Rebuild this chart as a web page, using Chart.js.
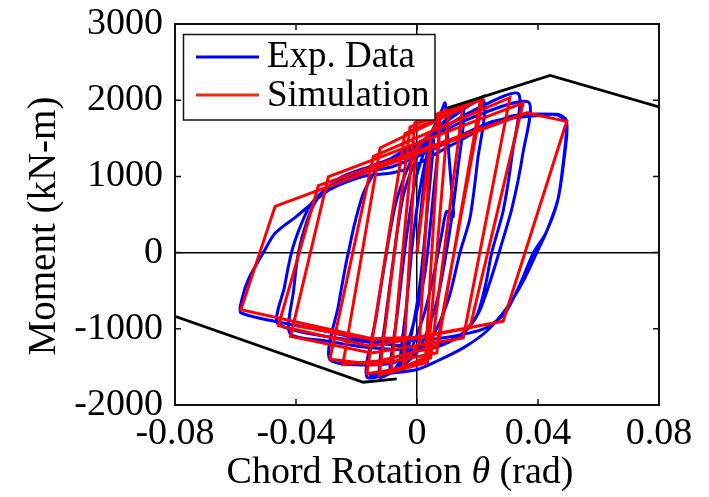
<!DOCTYPE html>
<html><head><meta charset="utf-8">
<script src="https://cdn.jsdelivr.net/npm/chart.js@4.4.1/dist/chart.umd.min.js"></script>
<style>html,body{margin:0;padding:0;background:#fff;}canvas{display:block;}</style>
</head><body>
<canvas id="c" width="709" height="497"></canvas>
<script>
const xTicks = [-0.08, -0.04, 0, 0.04, 0.08];
const yTicks = [-2000, -1000, 0, 1000, 2000, 3000];

// Experimental hysteresis (rotation rad, moment kN-m)
const expData = [
[0,0],[0.002,800],[0.004,1300],[0.0055,1480],
[0.0035,600],[0.001,-400],[-0.002,-1100],[-0.0045,-1450],[-0.0058,-1510],
[-0.0035,-700],[-0.001,300],[0.002,1050],[0.005,1500],[0.0075,1680],
[0.0055,800],[0.0025,-300],[-0.002,-1050],[-0.006,-1450],[-0.009,-1580],
[-0.0065,-800],[-0.0035,200],[-0.0005,950],[0.004,1500],[0.008,1850],[0.0093,1964],
[0.0105,1300],[0.0115,800],[0.012,476],[0.0098,540],[0.0082,250],[0.0055,-300],[0.002,-850],[-0.003,-1350],[-0.008,-1560],[-0.0125,-1630],
[-0.0105,-900],[-0.0075,0],[-0.0045,750],[0,1250],[0.006,1600],[0.0152,1900],
[0.0135,1100],[0.0105,200],[0.0065,-650],[0.001,-1250],[-0.006,-1520],[-0.0166,-1630],
[-0.0135,-850],[-0.0105,-100],[-0.007,650],[-0.002,1200],[0.006,1600],[0.0219,2000],
[0.02,1200],[0.0175,450],[0.0142,0],[0.0105,-600],[0.005,-1100],[-0.003,-1380],[-0.012,-1470],[-0.0288,-1400],
[-0.026,-700],[-0.0235,-150],[-0.0227,0],[-0.0205,400],[-0.0175,800],[-0.013,1100],[-0.006,1300],[0.004,1520],[0.018,1850],[0.0335,2086],
[0.0315,1300],[0.0285,550],[0.0247,0],[0.0228,-398],[0.0197,-836],[0.0142,-1098],[0.0032,-1273],[-0.015,-1250],[-0.03,-1160],[-0.042,-1060],
[-0.0408,-500],[-0.0392,0],[-0.0365,400],[-0.0331,695],[-0.0255,980],[-0.0155,1132],[-0.0067,1263],[-0.0007,1373],[0.015,1720],[0.0368,1977],
[0.035,1300],[0.0315,600],[0.0275,50],[0.024,-400],[0.0205,-780],[0.015,-1060],[0.005,-1230],[-0.015,-1180],[-0.0458,-940],
[-0.0438,-450],[-0.0415,0],[-0.0385,350],[-0.035,640],[-0.028,900],[-0.018,1050],[-0.008,1130],[0.005,1350],[0.025,1720],[0.04,1800],[0.0462,1810],[0.0495,1701],
[0.0487,1250],[0.0465,680],[0.0425,250],[0.0385,0],[0.034,-420],[0.029,-800],[0.022,-1000],[0.01,-1110],[0,-1150],[-0.0155,-1150],[-0.035,-990],[-0.0582,-791],
[-0.0578,-600],[-0.0555,-330],[-0.0508,0],[-0.047,250],[-0.0398,476],[-0.0288,827],[-0.0177,1002],[-0.0079,1049],[-0.0013,1132],[0.01,1380],[0.0307,1788],[0.0462,1815],[0.049,1760],[0.0495,1701],
[0.0489,1373],[0.0467,718],[0.0429,280],[0.0396,0],[0.0351,-376],[0.0297,-726],[0.023,-1032],[0.0153,-1250],[0.0065,-1426],[0,-1535],[-0.008,-1580],[-0.016,-1610]
];

// Simulation hysteresis
const simData = [
[0,0],[0.0045,1480],[0.0008,-1200],[-0.0045,-1470],
[-0.0005,1350],[0.0075,1720],[0.0028,-1380],[-0.0085,-1570],
[-0.0007,1702],[0.0105,1880],[0.0035,-1440],[-0.0125,-1610],
[-0.0023,1649],[0.0152,1942],[0.0045,-1380],[-0.007,-1530],[-0.0166,-1590],
[-0.004,1560],[0.0219,2051],[0.0065,-1229],[-0.012,-1420],[-0.0245,-1470],
[-0.0122,1373],[0.021,2010],[0.0065,-1317],[-0.014,-1470],[-0.0288,-1400],
[-0.0144,1263],[0.0307,2033],[0.0153,-1119],[-0.015,-1316],[-0.0418,-1100],
[-0.0293,993],[0.0351,1964],[0.0175,-988],[-0.0155,-1229],[-0.0458,-960],
[-0.0326,879],[0.0363,1833],[0.0495,1723],[0.0285,-901],[0,-1110],[-0.0149,-1131],[-0.0582,-748],
[-0.0469,607],[0.0363,1833],[0.0495,1723],[0.0285,-901],[0,-1120],[-0.0149,-1140],[-0.04,-960]
];

// Backbone (capping) envelope
const backboneNeg = [[-0.08,-835],[-0.01775,-1701],[-0.0067,-1657]];
const backbonePos = [[0.010,1895],[0.044,2326],[0.08,1912]];

const FONT = '"Liberation Serif","Times New Roman",serif';
const pts = a => a.map(p => ({x: p[0], y: p[1]}));

const framePlugin = {
  id: 'frame',
  afterDraw(chart) {
    const {ctx, chartArea: a, scales} = chart;
    ctx.save();
    ctx.strokeStyle = '#111'; ctx.lineWidth = 2;
    ctx.strokeRect(a.left, a.top, a.right - a.left, a.bottom - a.top);
    ctx.lineWidth = 1.5;
    const tl = 6;
    xTicks.forEach(v => {
      const px = scales.x.getPixelForValue(v);
      if (px <= a.left + 1 || px >= a.right - 1) return;
      ctx.beginPath();
      ctx.moveTo(px, a.bottom); ctx.lineTo(px, a.bottom - tl);
      ctx.moveTo(px, a.top); ctx.lineTo(px, a.top + tl);
      ctx.stroke();
    });
    yTicks.forEach(v => {
      const py = scales.y.getPixelForValue(v);
      if (py <= a.top + 1 || py >= a.bottom - 1) return;
      ctx.beginPath();
      ctx.moveTo(a.left, py); ctx.lineTo(a.left + tl, py);
      ctx.moveTo(a.right, py); ctx.lineTo(a.right - tl, py);
      ctx.stroke();
    });
    // legend
    ctx.fillStyle = '#fff';
    ctx.fillRect(183.5, 34.5, 251.5, 85.5);
    ctx.strokeStyle = '#111'; ctx.lineWidth = 1.5;
    ctx.strokeRect(183.5, 34.5, 251.5, 85.5);
    ctx.lineWidth = 3;
    ctx.strokeStyle = '#0000ff';
    ctx.beginPath(); ctx.moveTo(196, 57); ctx.lineTo(259, 57); ctx.stroke();
    ctx.strokeStyle = '#e8300e';
    ctx.beginPath(); ctx.moveTo(196, 95); ctx.lineTo(259, 95); ctx.stroke();
    ctx.fillStyle = '#000';
    ctx.font = '37px ' + FONT;
    ctx.textAlign = 'left'; ctx.textBaseline = 'alphabetic';
    ctx.fillText('Exp. Data', 267, 67);
    ctx.fillText('Simulation', 267, 106);
    // x title with italic theta
    const f1 = '38px ' + FONT, f2 = 'italic 38px ' + FONT;
    const s1 = 'Chord Rotation ', s2 = '\u03B8', s3 = ' (rad)';
    ctx.font = f1; const w1 = ctx.measureText(s1).width, w3 = ctx.measureText(s3).width;
    ctx.font = f2; const w2 = ctx.measureText(s2).width;
    const x0 = 400 - (w1 + w2 + w3) / 2;
    const by = 483;
    ctx.font = f1; ctx.fillText(s1, x0, by);
    ctx.font = f2; ctx.fillText(s2, x0 + w1, by);
    ctx.font = f1; ctx.fillText(s3, x0 + w1 + w2, by);
    // y title
    ctx.translate(55, 226);
    ctx.rotate(-Math.PI / 2);
    ctx.textAlign = 'center';
    ctx.font = '39px ' + FONT;
    ctx.fillText('Moment (kN-m)', 0, 0);
    ctx.restore();
  }
};

new Chart(document.getElementById('c'), {
  type: 'scatter',
  data: {
    datasets: [
      {label: 'Backbone-', data: pts(backboneNeg), showLine: true, borderColor: '#000', borderWidth: 2.8, pointRadius: 0, order: 0},
      {label: 'Backbone+', data: pts(backbonePos), showLine: true, borderColor: '#000', borderWidth: 2.8, pointRadius: 0, order: 0},
      {label: 'Simulation', data: pts(simData), showLine: true, borderColor: '#ff0000', borderWidth: 3, pointRadius: 0, tension: 0, order: 1},
      {label: 'Exp. Data', data: pts(expData), showLine: true, borderColor: '#0000ff', borderWidth: 3, pointRadius: 0, tension: 0.25, order: 2}
    ]
  },
  options: {
    responsive: false, animation: false, devicePixelRatio: 1,
    layout: {padding: {top: 24, right: 50, left: 0, bottom: 0}},
    plugins: {legend: {display: false}, tooltip: {enabled: false}},
    scales: {
      x: {
        type: 'linear', min: -0.08, max: 0.08,
        afterBuildTicks: s => { s.ticks = xTicks.map(v => ({value: v})); },
        afterFit: s => { s.height = 92; s.paddingLeft = 0; s.paddingRight = 0; },
        border: {display: false},
        grid: {drawTicks: false, lineWidth: 1.5, color: c => (c.tick && c.tick.value === 0) ? '#000' : 'rgba(0,0,0,0)'},
        ticks: {color: '#000', padding: 6, maxRotation: 0, autoSkip: false, font: {family: FONT, size: 38},
          callback: v => v === 0 ? '0' : String(v)}
      },
      y: {
        type: 'linear', min: -2000, max: 3000,
        afterBuildTicks: s => { s.ticks = yTicks.map(v => ({value: v})); },
        afterFit: s => { s.width = 175; s.paddingTop = 0; s.paddingBottom = 0; },
        border: {display: false},
        grid: {drawTicks: false, lineWidth: 1.5, color: c => (c.tick && c.tick.value === 0) ? '#000' : 'rgba(0,0,0,0)'},
        ticks: {color: '#000', padding: 12, autoSkip: false, font: {family: FONT, size: 38},
          callback: v => String(v)}
      }
    }
  },
  plugins: [framePlugin]
});
</script>
</body></html>
